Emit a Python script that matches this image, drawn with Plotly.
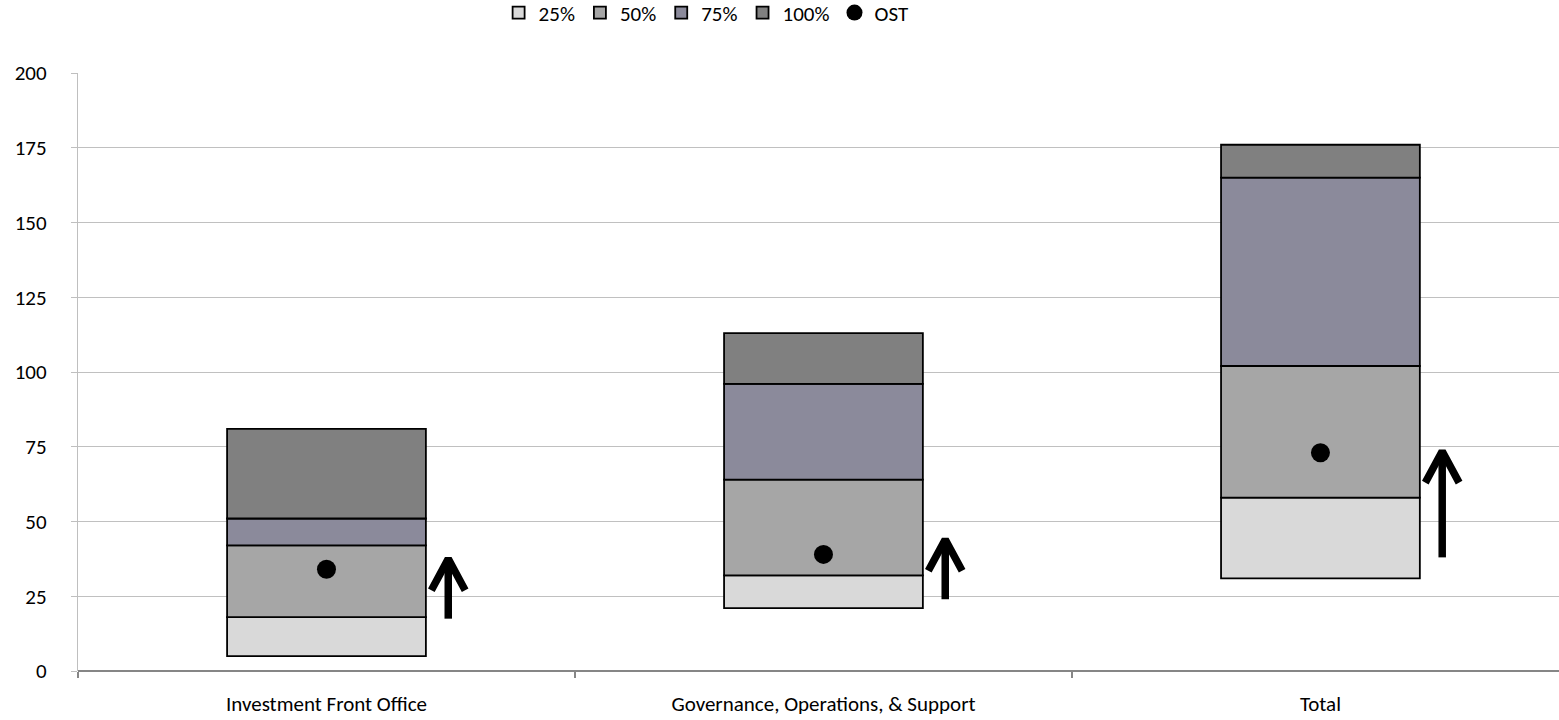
import plotly.graph_objects as go

categories = ["Investment Front Office", "Governance, Operations, & Support", "Total"]
low = [5, 21, 31]
p25 = [18, 32, 58]
p50 = [42, 64, 102]
p75 = [51, 96, 165]
p100 = [81, 113, 176]
ost = [34, 39, 73]
arrow_from = [17.5, 24, 38]
arrow_to = [37.5, 44, 73.5]

series_names = ["25%", "50%", "75%", "100%"]
colors = ["#D9D9D9", "#A6A6A6", "#8B8A9B", "#808080"]

xs = list(range(len(categories)))
fig = go.Figure()

levels = [low, p25, p50, p75, p100]
for i, name in enumerate(series_names):
    base = levels[i]
    top = levels[i + 1]
    fig.add_trace(go.Bar(
        x=xs, y=[t - b for t, b in zip(top, base)], base=base, name=name,
        width=0.4, marker=dict(color=colors[i], line=dict(color="black", width=1.8)),
        hoverinfo="skip",
    ))

fig.add_trace(go.Scatter(
    x=xs, y=ost, mode="markers", name="OST",
    marker=dict(color="black", size=19, symbol="circle"),
))

# arrows (shaft + chevron head), positioned relative to categories
off = 0.245
wx = 0.034
wy = 10.5
ax, ay = [], []
for i in xs:
    cx = i + off
    ax += [cx, cx, None, cx - wx, cx, cx + wx, None]
    ay += [arrow_from[i], arrow_to[i] - 1, None, arrow_to[i] - wy, arrow_to[i], arrow_to[i] - wy, None]
fig.add_trace(go.Scatter(
    x=ax, y=ay, mode="lines", showlegend=False, hoverinfo="skip",
    line=dict(color="black", width=7.5),
))

# invisible trace for the boundary tick axis
fig.add_trace(go.Scatter(x=[0], y=[0], xaxis="x2", mode="markers",
                         marker=dict(opacity=0), showlegend=False, hoverinfo="skip"))

font = "Carlito, Lato, 'Open Sans', sans-serif"
fs = 21
xr = [-0.5, 2.48]
fig.update_layout(
    width=1559, height=720,
    margin=dict(l=78, r=0, t=73, b=49),
    plot_bgcolor="white", paper_bgcolor="white",
    barmode="overlay",
    font=dict(family=font, size=fs, color="black"),
    legend=dict(orientation="h", x=0.284, xanchor="left", y=0.982, yanchor="middle",
                yref="container", font=dict(size=fs), itemwidth=30,
                traceorder="normal"),
    xaxis=dict(range=xr, tickvals=xs, ticktext=categories, ticks="",
               showgrid=False, showline=False, zeroline=False,
               tickfont=dict(size=fs), ticklabelstandoff=18),
    xaxis2=dict(range=xr, overlaying="x", tickvals=[-0.5, 0.5, 1.5, 2.5],
                ticks="outside", ticklen=6, tickcolor="#868686", tickwidth=1.5,
                showticklabels=False, showgrid=False, zeroline=False, showline=False,
                side="bottom"),
    yaxis=dict(range=[0, 200], dtick=25, showgrid=True, gridcolor="#C0C0C0", gridwidth=1.3,
               showline=True, linecolor="#BFBFBF", linewidth=1.3, ticks="outside",
               ticklen=6, tickcolor="#BFBFBF", zeroline=True, zerolinecolor="#868686",
               zerolinewidth=2.2, tickfont=dict(size=fs), ticklabelstandoff=20),
)
fig.write_html("out.html")
